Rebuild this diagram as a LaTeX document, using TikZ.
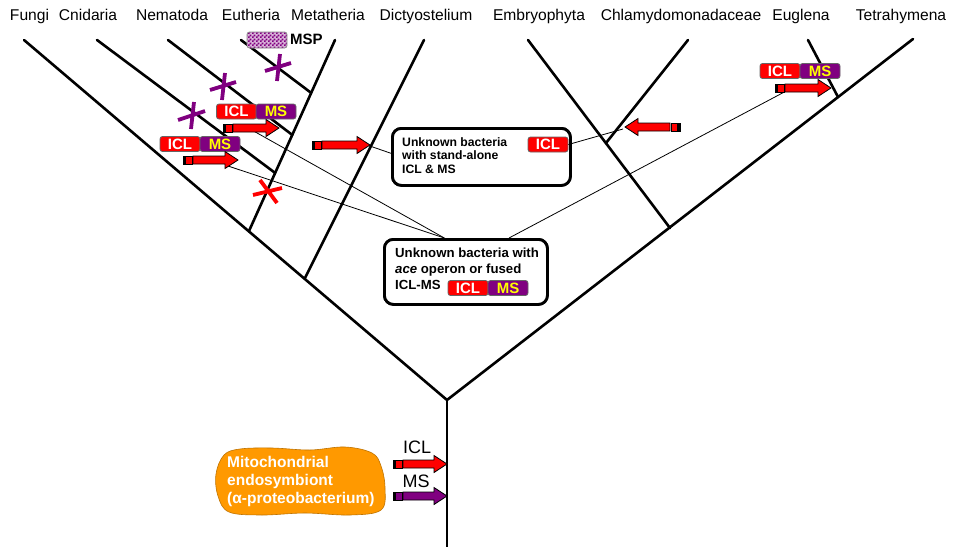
\documentclass[tikz,border=0pt]{standalone}
\usepackage{fontspec}
\setmainfont{Liberation Sans}
\usetikzlibrary{calc,patterns}
\definecolor{iclred}{RGB}{255,0,0}
\definecolor{mspurple}{RGB}{128,0,128}
\definecolor{msyellow}{RGB}{255,255,0}
\definecolor{mito}{RGB}{255,153,0}
\pgfdeclarepatternformonly{finecheck}{\pgfpointorigin}{\pgfpoint{4pt}{4pt}}{\pgfpoint{4pt}{4pt}}{%
  \pgfpathrectangle{\pgfpointorigin}{\pgfpoint{2pt}{2pt}}%
  \pgfpathrectangle{\pgfpoint{2pt}{2pt}}{\pgfpoint{2pt}{2pt}}%
  \pgfusepath{fill}}
\newcommand\FatArrow[5]{% #1 x of stub start, #2 y, #3 body length, #4 colour, #5 direction (1 or -1)
  \begin{scope}[shift={(#1,#2)},xscale=#5]
    \draw[line width=0.9pt,fill=#4] (0,-4) rectangle (9,4);
    \fill[black] (0,-4) rectangle (3,4);
    \draw[line width=0.8pt,fill=#4,line join=miter] (10,-4) -- (10+#3,-4) -- (10+#3,-8.5) -- (23+#3,0) -- (10+#3,8.5) -- (10+#3,4) -- (10,4) -- cycle;
  \end{scope}}
\begin{document}
\begin{tikzpicture}[x=1pt,y=-1pt,
  tree/.style={line width=2.6pt,line cap=round},
  thinline/.style={line width=0.8pt},
  lab/.style={anchor=base,inner sep=0pt,font=\fontsize{15.6}{18}\selectfont},
  chip/.style={draw=black!60,line width=0.8pt,rounded corners=2.5pt,minimum width=40pt,minimum height=15pt,inner sep=0pt,font=\fontsize{15}{16}\selectfont\bfseries},
  iclchip/.style={chip,fill=iclred,text=white},
  mschip/.style={chip,fill=mspurple,text=msyellow},
  bactbox/.style={draw,line width=2.8pt,rounded corners=9pt,fill=white,inner sep=0pt,anchor=north west},
  uptxt/.style={anchor=base west,inner sep=0pt,font=\fontsize{12.2}{14}\selectfont\bfseries},
  lowtxt/.style={anchor=base west,inner sep=0pt,font=\fontsize{13.2}{15}\selectfont\bfseries},
  mitotxt/.style={anchor=base west,inner sep=0pt,text=white,font=\fontsize{15.5}{18}\selectfont\bfseries},
  genelab/.style={anchor=base,inner sep=0pt,font=\fontsize{18}{20}\selectfont},
  lossmark/.style={line width=3.8pt,mspurple},
  redmark/.style={line width=3.8pt,red}]
\useasboundingbox (0,0) rectangle (968,546);
\fill[white] (0,0) rectangle (968,546);

% taxon labels
\node[lab] (lfungi) at (29.5,20) {Fungi};
\node[lab] (lcnid) at (88,20) {Cnidaria};
\node[lab] (lnema) at (172,20) {Nematoda};
\node[lab] (leuth) at (251,20) {Eutheria};
\node[lab] (lmeta) at (328,20) {Metatheria};
\node[lab] (ldict) at (426,20) {Dictyostelium};
\node[lab] (lembr) at (539,20) {Embryophyta};
\node[lab] (lchla) at (681,20) {Chlamydomonadaceae};
\node[lab] (leugl) at (801,20) {Euglena};
\node[lab] (ltetr) at (901,20) {Tetrahymena};

% tree coordinates
\coordinate (root) at (447,400);
\coordinate (bottom) at (447,547);
\coordinate (fungi) at (24,40);
\coordinate (cnid) at (97,40);
\coordinate (nema) at (168,40);
\coordinate (euth) at (241,40);
\coordinate (meta) at (335,40);
\coordinate (dict) at (424,40);
\coordinate (embr) at (528,40);
\coordinate (chla) at (688,40);
\coordinate (eugl) at (808,40);
\coordinate (tetr) at (913,39);
\coordinate (metaB) at (249,231);
\coordinate (dictB) at (305,278);
\coordinate (embrB) at (670,228);
\coordinate (chlaB) at (606,143);
\coordinate (euglB) at (838,97);
\coordinate (jE) at ($(meta)!0.277!(metaB)$);
\coordinate (jN) at ($(meta)!0.497!(metaB)$);
\coordinate (jC) at ($(meta)!0.696!(metaB)$);

% thin connector lines
\coordinate (srcA) at (250,129);
\coordinate (srcB) at (228,166);
\coordinate (srcEug) at (790,89);
\coordinate (dtip) at (367,145);
\coordinate (ctip) at (623,129);

% boxes
\node[bactbox,minimum width=178pt,minimum height=57pt] (upbox) at (391,127) {};
\node[bactbox,minimum width=163pt,minimum height=65pt] (lowbox) at (383,238) {};

\draw[thinline] (srcA) -- ($(lowbox.north west)!0.37!(lowbox.north east)$);
\draw[thinline] (srcB) -- ($(lowbox.north west)!0.37!(lowbox.north east)$);
\draw[thinline] (srcEug) -- ($(lowbox.north west)!0.76!(lowbox.north east)$);
\draw[thinline] (dtip) -- ($(upbox.north west)!0.44!(upbox.south west)$);

% tree
\draw[tree,line join=round] (fungi) -- (root) -- (tetr);
\draw[tree] (root) -- (bottom);
\draw[tree] (meta) -- (metaB);
\draw[tree] (dict) -- (dictB);
\draw[tree] (cnid) -- (jC);
\draw[tree] (nema) -- (jN);
\draw[tree] (euth) -- (jE);
\draw[tree] (embr) -- (embrB);
\draw[tree] (chla) -- (chlaB);
\draw[tree] (eugl) -- (euglB);

% box redraw on top of connector ends
\node[bactbox,minimum width=178pt,minimum height=57pt] at (391,127) {};
\node[bactbox,minimum width=163pt,minimum height=65pt] at (383,238) {};

\node[uptxt] (u1) at (402,146) {Unknown bacteria};
\node[uptxt] (u2) at (402,159.5) {with stand-alone};
\node[uptxt] (u3) at (402,173) {ICL \& MS};
\node[iclchip] (uicl) at (548,144.5) {ICL};
\draw[thinline] (uicl.east) -- (ctip);

\node[lowtxt] (w1) at (395,257.5) {Unknown bacteria with};
\node[lowtxt] (w2) at (395,273.5) {\textit{ace} operon or fused};
\node[lowtxt] (w3) at (395,289.5) {ICL-MS};
\node[iclchip] (licl) at (468,288) {ICL};
\node[mschip] (lms) at (508,288) {MS};

% gene chips on branches
\node[iclchip] (eicl) at (236.5,111.5) {ICL};
\node[mschip] (ems) at (276,111.5) {MS};
\node[iclchip] (cicl) at (180,144) {ICL};
\node[mschip] (cms) at (220,144) {MS};
\node[iclchip] (gicl) at (780,71) {ICL};
\node[mschip] (gms) at (820,71) {MS};
\node[chip,draw=none,fill=mspurple!30,minimum height=16pt] (mspbg) at (267,40) {};
\node[chip,draw=none,pattern=finecheck,pattern color=mspurple,minimum height=16pt] (msp) at (267,40) {};
\node[chip,draw=black!45,fill=none,minimum height=16pt] (mspframe) at (267,40) {};
\node[anchor=base west,inner sep=0pt,font=\fontsize{15}{17}\selectfont\bfseries] (msplab) at (290,44.5) {MSP};

% arrows
\FatArrow{223}{128}{33}{iclred}{1}
\FatArrow{183}{160}{32}{iclred}{1}
\FatArrow{312}{145}{35}{iclred}{1}
\FatArrow{680}{127}{32}{iclred}{-1}
\FatArrow{775}{88}{33}{iclred}{1}
\FatArrow{393}{464}{31}{iclred}{1}
\FatArrow{393}{496}{31}{mspurple}{1}

% loss marks
\draw[lossmark] (278,67) +(-13,4) -- +(13,-4) (278,67) +(2,-13) -- +(-1,14);
\draw[lossmark] (223,86) +(-13,4) -- +(13,-4) (223,86) +(2,-13) -- +(-1,14);
\draw[lossmark] (192,115) +(-14,5) -- +(13,-4) (192,115) +(2,-13) -- +(-1,14);
\draw[redmark] (268,192) +(-15,3) -- +(14,-4) (268,192) +(-8,-12) -- +(9,11);

% mitochondrial endosymbiont
\draw[fill=mito,draw=mito!75!black,line width=0.6pt] plot[smooth cycle,tension=0.6] coordinates {
 (224,455) (240,449) (272,448) (310,450) (345,447) (372,453) (381,466) (385,488) (381,510) (350,515) (305,513) (262,515) (229,512) (218,496) (216,474)};
\node[mitotxt] (m1) at (227,467) {Mitochondrial};
\node[mitotxt] (m2) at (227,485) {endosymbiont};
\node[mitotxt] (m3) at (227,503) {(α-proteobacterium)};
\node[genelab] (bicl) at (417,453) {ICL};
\node[genelab] (bms) at (416,487) {MS};
\end{tikzpicture}
\end{document}
